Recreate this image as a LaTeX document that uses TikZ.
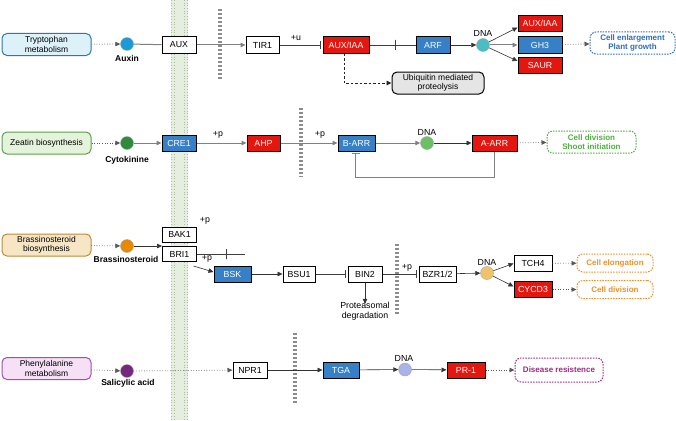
\documentclass[tikz,border=0pt]{standalone}
\usepackage{fontspec}
\setmainfont{Liberation Sans}
\usetikzlibrary{arrows.meta}
\definecolor{rboxc}{HTML}{E3170F}
\definecolor{bboxc}{HTML}{3580C6}
\definecolor{trpf}{HTML}{DDF1F9}\definecolor{trpd}{HTML}{2F74B5}
\definecolor{zeaf}{HTML}{E4F3DC}\definecolor{zead}{HTML}{5C9E45}
\definecolor{braf}{HTML}{F6E6C6}\definecolor{brad}{HTML}{C08A35}
\definecolor{phef}{HTML}{F5E0F6}\definecolor{phed}{HTML}{A24FB3}
\definecolor{auxc}{HTML}{1B9AD8}\definecolor{cytc}{HTML}{2E8B3B}
\definecolor{brac}{HTML}{E68A00}\definecolor{salc}{HTML}{74297F}
\definecolor{dnaa}{HTML}{48BFC4}\definecolor{dnab}{HTML}{6CC063}
\definecolor{dnac}{HTML}{F0C36A}\definecolor{dnad}{HTML}{A8B3E8}
\definecolor{oblue}{HTML}{2F6DB5}\definecolor{ogreen}{HTML}{4CAF3C}
\definecolor{oorange}{HTML}{E8922A}\definecolor{opurple}{HTML}{9B2B83}
\definecolor{memf}{HTML}{E6EEE0}\definecolor{memd}{HTML}{A9BEA0}
\newcommand\fsz{\fontsize{8.8}{9.6}\selectfont}
\newcommand\fsm{\fontsize{8.5}{9.4}\selectfont}
\newcommand\fso{\fontsize{8}{9}\selectfont}
\begin{document}
\begin{tikzpicture}[x=1pt,y=-1pt,
  wbox/.style={draw=black,line width=1pt,fill=white,minimum width=34pt,minimum height=16pt,inner sep=0pt,font=\fsz},
  rbox/.style={wbox,fill=rboxc,text=white},
  bbox/.style={wbox,fill=bboxc,text=white},
  src/.style={rounded corners=5pt,line width=1pt,minimum width=89pt,minimum height=22pt,inner sep=0pt,align=center,font=\fsm},
  outb/.style={rounded corners=6pt,dash pattern=on 1.5pt off 1.2pt,line width=1pt,minimum height=22pt,inner sep=0pt,align=center,font=\bfseries\fso},
  mol/.style={circle,minimum size=13pt,inner sep=0pt,draw=black!35,line width=0.4pt},
  lbl/.style={font=\bfseries\fsm,inner sep=0pt},
  small/.style={font=\fsz,inner sep=0pt,align=center},
  arr/.style={-{Triangle[length=5pt,width=4.5pt]},line width=0.6pt,draw=black!80},
  garr/.style={arr,draw=black!50,line width=1pt},
  inh/.style={-{Bar[width=8pt]},line width=0.6pt,draw=black!75,shorten >=2pt},
  dotarr/.style={arr,dotted,line width=0.8pt,draw=black!65},
  dasharr/.style={arr,dash pattern=on 2.5pt off 2pt,line width=0.9pt,draw=black!85},
  bar/.style={draw=black!45,line width=3.6pt,dash pattern=on 2.4pt off 1.6pt}
]
\useasboundingbox (0,0) rectangle (676,420);
% membrane
\fill[memf] (171,0) rectangle (188,420);
\foreach \x in {171.5,174.5,184.5,187.5} \draw[memd,dotted,line width=0.7pt] (\x,0) -- (\x,420);
% dashed bars
\draw[bar] (220,9) -- (220,80);
\draw[bar] (301,108) -- (301,177);
\draw[bar] (397,244) -- (397,315);
\draw[bar] (295,333) -- (295,403);

% ---------- Row 1
\node[src,fill=trpf,draw=trpd] (trp) at (46.5,44.5) {Tryptophan\\metabolism};
\node[mol,fill=auxc] (auxin) at (127,44) {};
\node[lbl] (auxinl) at (127,58) {Auxin};
\node[wbox] (aux) at (179,45) {AUX};
\node[wbox,minimum width=33pt] (tir1) at (262.5,45) {TIR1};
\node[small] (u) at (296,38) {+u};
\node[rbox,minimum width=46pt] (auxiaa) at (346,45) {AUX/IAA};
\node[bbox] (arf) at (433,45) {ARF};
\node[mol,fill=dnaa] (dna1) at (483,45) {};
\node[small] (dna1l) at (483,33) {DNA};
\node[rbox,minimum width=44pt] (auxiaa2) at (540,23.5) {AUX/IAA};
\node[bbox,minimum width=44pt] (gh3) at (540,45) {GH3};
\node[rbox,minimum width=44pt] (saur) at (540,65) {SAUR};
\node[outb,draw=oblue,text=oblue,minimum width=85pt] (cellenl) at (632.5,43) {Cell enlargement\\Plant growth};
\node[src,fill=black!10,draw=black,minimum width=92pt] (ubi) at (438,83) {Ubiquitin mediated\\proteolysis};

\draw[dotarr] (trp) -- (auxin);
\draw[draw=black!50,line width=1pt] (auxin) -- (aux);
\draw[garr] (aux) -- (tir1);
\draw[inh] (tir1) -- (auxiaa);
\draw[line width=0.6pt,draw=black!75] (auxiaa) -- (arf) node[pos=0.55,draw=black!75,line width=0.6pt,minimum width=0pt,minimum height=10pt,inner sep=0pt] {};
\draw[arr] (arf) -- (dna1);
\draw[arr] (dna1) -- ([yshift=-4pt]auxiaa2.west);
\draw[garr] (dna1) -- (gh3.west);
\draw[arr] (dna1) -- ([yshift=4pt]saur.west);
\draw[dotarr] (gh3) -- (cellenl);
\draw[dasharr] ([xshift=-2pt]auxiaa.south) |- (ubi.west);

% ---------- Row 2
\node[src,fill=zeaf,draw=zead] (zea) at (46.5,143) {Zeatin biosynthesis};
\node[mol,fill=cytc] (cyt) at (127,143) {};
\node[lbl] (cytl) at (127,160) {Cytokinine};
\node[bbox] (cre1) at (179,143) {CRE1};
\node[small] (p1) at (218,135) {+p};
\node[rbox,minimum width=33pt] (ahp) at (263.5,143) {AHP};
\node[small] (p2) at (320,135) {+p};
\node[bbox,minimum width=37pt] (barr) at (356.5,143) {B-ARR};
\node[mol,fill=dnab] (dna2) at (427,143) {};
\node[small] (dna2l) at (427,132) {DNA};
\node[rbox,minimum width=45pt] (aarr) at (494.5,143) {A-ARR};
\node[outb,draw=ogreen,text=ogreen,minimum width=89pt] (cdiv) at (591.5,142) {Cell division\\Shoot initiation};

\draw[dotarr] (zea) -- (cyt);
\draw[garr] (cyt) -- (cre1);
\draw[garr] (cre1) -- (ahp);
\draw[garr] (ahp) -- (barr);
\draw[garr] (barr) -- (dna2);
\draw[arr] (dna2) -- (aarr);
\draw[dotarr] (aarr) -- (cdiv);
\draw[inh,draw=black!50,line width=0.8pt,shorten >=1.5pt] (aarr.south) -- ++(0,26) -| ([xshift=-1pt]barr.south);

% ---------- Row 3
\node[src,fill=braf,draw=brad] (bra) at (46.5,245) {Brassinosteroid\\biosynthesis};
\node[mol,fill=brac] (bras) at (127,246) {};
\node[lbl] (brasl) at (126,259) {Brassinosteroid};
\node[wbox,minimum height=15pt] (bak1) at (179.5,234.5) {BAK1};
\node[small] (p3) at (205,221) {+p};
\node[wbox,minimum height=15pt] (bri1) at (179.5,254) {BRI1};
\coordinate (bri1end) at (245,254);
\node[small] (p4) at (207,259) {+p};
\node[bbox,minimum width=37pt] (bsk) at (232.5,274) {BSK};
\node[wbox,minimum width=32pt] (bsu1) at (299,274) {BSU1};
\node[wbox] (bin2) at (365,274) {BIN2};
\node[small] (prot) at (365,311) {Proteasomal\\degradation};
\node[small] (p5) at (407,268) {+p};
\node[wbox,minimum width=37pt] (bzr) at (437.5,274) {BZR1/2};
\node[mol,fill=dnac] (dna3) at (487,273) {};
\node[small] (dna3l) at (487,262) {DNA};
\node[wbox,minimum width=38pt] (tch4) at (533,263.5) {TCH4};
\node[rbox,minimum width=38pt] (cycd3) at (533,289.5) {CYCD3};
\node[outb,draw=oorange,text=oorange,minimum width=76pt,minimum height=18pt] (celong) at (615,263) {Cell elongation};
\node[outb,draw=oorange,text=oorange,minimum width=76pt,minimum height=18pt] (cdiv2) at (615,289.5) {Cell division};

\draw[dotarr] (bra) -- (bras);
\draw[arr] (bras) -- (bras -| bri1.west);
\draw[line width=0.6pt,draw=black!75] (bri1) -- (bri1end) node[pos=0.62,draw=black!75,line width=0.6pt,minimum width=0pt,minimum height=10pt,inner sep=0pt] {};
\draw[arr] ([xshift=14pt,yshift=-4pt]bri1.south) -- ([yshift=2pt]bsk.west);
\draw[arr] (bsk) -- (bsu1);
\draw[inh] (bsu1) -- (bin2);
\draw[arr] (bin2) -- ([yshift=-2pt]prot.north);
\draw[inh] (bin2) -- (bzr);
\draw[arr] (bzr) -- (dna3);
\draw[arr] (dna3) -- (tch4.west);
\draw[arr] (dna3) -- ([yshift=3pt]cycd3.west);
\draw[dotarr] (tch4) -- (celong);
\draw[dotarr] (cycd3) -- (cdiv2);

% ---------- Row 4
\node[src,fill=phef,draw=phed] (phe) at (46.5,368.5) {Phenylalanine\\metabolism};
\node[mol,fill=salc] (sal) at (127,371) {};
\node[lbl] (sall) at (128,383) {Salicylic acid};
\node[wbox] (npr1) at (250,370) {NPR1};
\node[bbox,minimum width=36pt] (tga) at (341,370) {TGA};
\node[mol,fill=dnad] (dna4) at (405,369.5) {};
\node[small] (dna4l) at (404,358) {DNA};
\node[rbox,minimum width=38pt] (pr1) at (466,370) {PR-1};
\node[outb,draw=opurple,text=opurple,minimum width=88pt,minimum height=24pt] (dis) at (559,370) {Disease resistence};

\draw[dotarr] (phe) -- (sal);
\draw[dotarr] (sal) -- (npr1);
\draw[arr] (npr1) -- (tga);
\draw[arr] (tga) -- (dna4);
\draw[arr] (dna4) -- (pr1);
\draw[dotarr] (pr1) -- (dis);
\end{tikzpicture}
\end{document}
